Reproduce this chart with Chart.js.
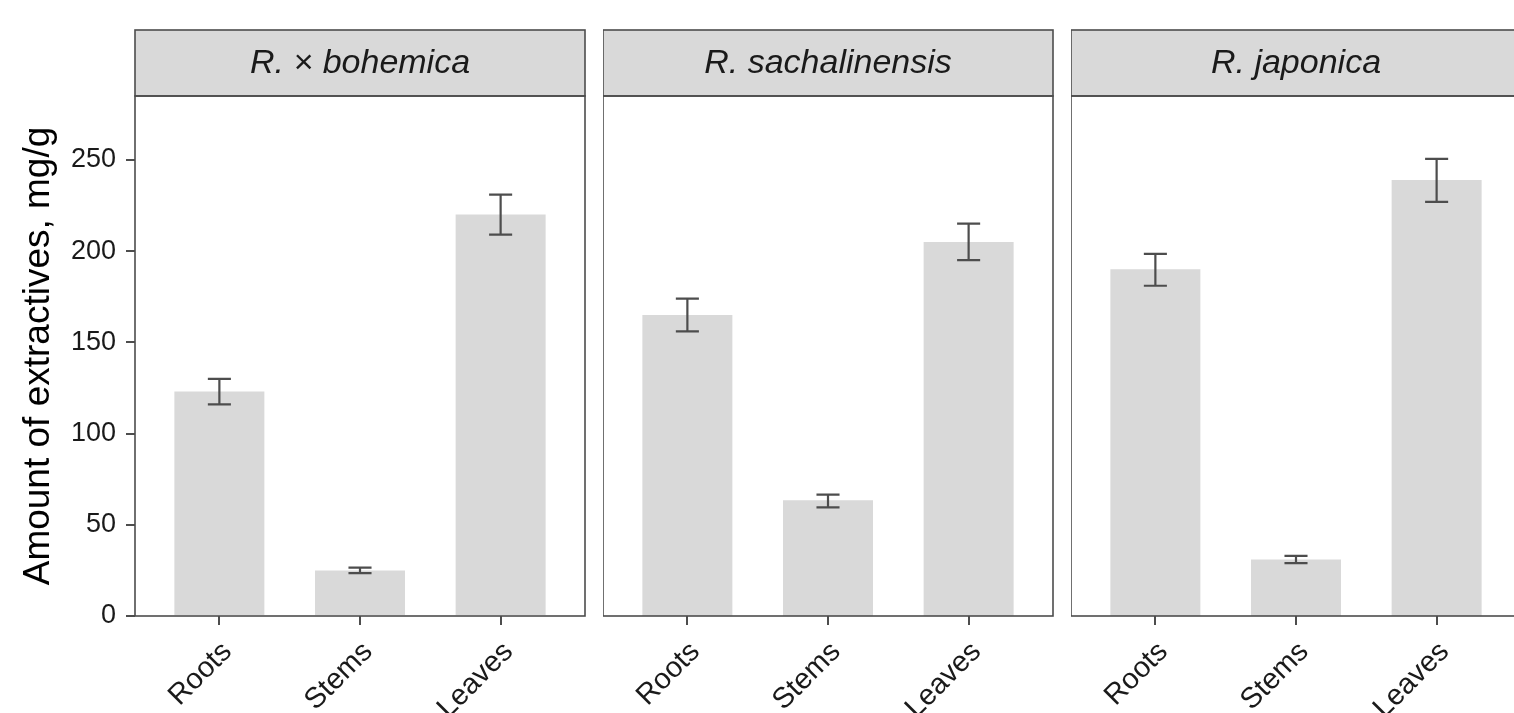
<!DOCTYPE html>
<html>
<head>
<meta charset="utf-8">
<script src="https://cdn.jsdelivr.net/npm/chart.js@4.4.0/dist/chart.umd.min.js"></script>
<style>
    html, body { margin: 0; padding: 0; background: #fff; overflow: hidden; width: 1514px; height: 713px; }
    canvas { position: absolute; top: 0; }
</style>
</head>
<body>
<canvas id="panel0" width="590" height="713" style="left:0px"></canvas>
<canvas id="panel1" width="455" height="713" style="left:603px"></canvas>
<canvas id="panel2" width="455" height="713" style="left:1071px"></canvas>
<script>
// Facets and categories
const species = ['R. × bohemica', 'R. sachalinensis', 'R. japonica'];
const organs = ['Roots', 'Stems', 'Leaves'];
const yTicks = [0, 50, 100, 150, 200, 250];

// Mean amount of extractives, mg/g (Roots, Stems, Leaves)
const bohemicaMean = [123, 25, 220];
const sachalinensisMean = [165, 63.5, 205];
const japonicaMean = [190, 31, 239];

// Error bar limits
const bohemicaLow = [116, 23.5, 209];
const bohemicaHigh = [130, 26.5, 231];
const sachalinensisLow = [156, 59.5, 195];
const sachalinensisHigh = [174, 66.5, 215];
const japonicaLow = [181, 29, 227];
const japonicaHigh = [198.5, 33, 250.5];

const means = [bohemicaMean, sachalinensisMean, japonicaMean];
const lows = [bohemicaLow, sachalinensisLow, japonicaLow];
const highs = [bohemicaHigh, sachalinensisHigh, japonicaHigh];

const FONT = "'Liberation Sans', Arial, sans-serif";
const LINE = '#4d4d4d';
const STRIP_H = 66;

// Draws the gray facet strip above the panel and the panel frame
const stripPlugin = {
    id: 'strip',
    afterDraw(chart, args, opts) {
        const { ctx, chartArea } = chart;
        const w = chartArea.right - chartArea.left;
        ctx.save();
        ctx.fillStyle = '#d9d9d9';
        ctx.fillRect(chartArea.left, chartArea.top - STRIP_H, w, STRIP_H);
        ctx.strokeStyle = LINE;
        ctx.lineWidth = 1.6;
        ctx.strokeRect(chartArea.left, chartArea.top - STRIP_H, w, STRIP_H);
        ctx.strokeRect(chartArea.left, chartArea.top, w, chartArea.bottom - chartArea.top);
        ctx.fillStyle = '#1a1a1a';
        ctx.font = 'italic 34px ' + FONT;
        ctx.textAlign = 'center';
        ctx.textBaseline = 'middle';
        ctx.fillText(opts.text, chartArea.left + w / 2, chartArea.top - STRIP_H / 2 + 1);
        ctx.restore();
    }
};

// Draws error bars from the low/high arrays
const errorBarPlugin = {
    id: 'errorBars',
    afterDatasetsDraw(chart, args, opts) {
        const { ctx, scales } = chart;
        ctx.save();
        ctx.strokeStyle = LINE;
        ctx.lineWidth = 2.2;
        opts.low.forEach((lo, i) => {
            const x = scales.x.getPixelForValue(i + 1);
            const xl = scales.x.getPixelForValue(i + 1 - 0.082);
            const xr = scales.x.getPixelForValue(i + 1 + 0.082);
            const yl = scales.y.getPixelForValue(lo);
            const yh = scales.y.getPixelForValue(opts.high[i]);
            ctx.beginPath();
            ctx.moveTo(x, yl); ctx.lineTo(x, yh);
            ctx.moveTo(xl, yl); ctx.lineTo(xr, yl);
            ctx.moveTo(xl, yh); ctx.lineTo(xr, yh);
            ctx.stroke();
        });
        ctx.restore();
    }
};

function makePanel(idx) {
    const showY = idx === 0;
    const ctx = document.getElementById('panel' + idx).getContext('2d');
    return new Chart(ctx, {
        type: 'bar',
        data: {
            datasets: [{
                data: organs.map((o, i) => ({ x: i + 1, y: means[idx][i] })),
                backgroundColor: '#d9d9d9',
                borderWidth: 0,
                barPercentage: 0.64,
                categoryPercentage: 1
            }]
        },
        options: {
            responsive: false,
            animation: false,
            layout: { padding: { top: 96, right: 5, left: 0, bottom: 0 }, autoPadding: false },
            scales: {
                x: {
                    type: 'linear',
                    min: 0.4,
                    max: 3.6,
                    offset: false,
                    afterBuildTicks: s => { s.ticks = organs.map((o, i) => ({ value: i + 1 })); },
                    afterFit: s => { s.height = 97; },
                    grid: { offset: false, drawOnChartArea: false, drawTicks: true, tickLength: 9, color: LINE, lineWidth: 2 },
                    border: { display: false },
                    ticks: {
                        callback: v => organs[v - 1],
                        autoSkip: false,
                        maxRotation: 45,
                        minRotation: 45,
                        padding: 10,
                        labelOffset: 8,
                        color: '#1a1a1a',
                        font: { family: FONT, size: 29 }
                    }
                },
                y: {
                    display: showY,
                    min: 0,
                    max: 285,
                    afterBuildTicks: s => { s.ticks = yTicks.map(v => ({ value: v })); },
                    afterFit: s => { if (showY) s.width = 135; },
                    grid: { drawOnChartArea: false, drawTicks: true, tickLength: 9, color: LINE, lineWidth: 2 },
                    border: { display: false },
                    ticks: {
                        padding: 10,
                        color: '#1a1a1a',
                        font: { family: FONT, size: 27 }
                    },
                    title: {
                        display: showY,
                        text: 'Amount of extractives, mg/g',
                        color: '#000',
                        font: { family: FONT, size: 37 },
                        padding: { top: 17, bottom: 0 }
                    }
                }
            },
            plugins: {
                legend: { display: false },
                tooltip: { enabled: false },
                strip: { text: species[idx] },
                errorBars: { low: lows[idx], high: highs[idx] }
            }
        },
        plugins: [stripPlugin, errorBarPlugin]
    });
}

species.forEach((s, i) => makePanel(i));
</script>
</body>
</html>
